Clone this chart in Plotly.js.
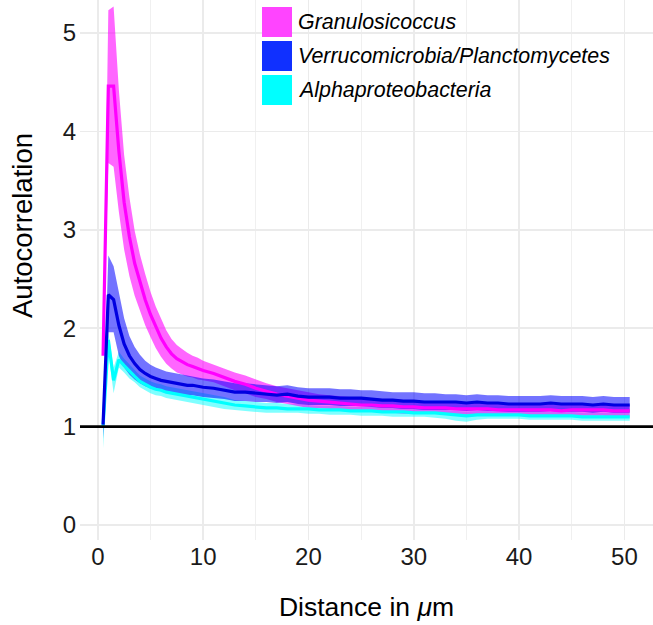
<!DOCTYPE html>
<html><head><meta charset="utf-8">
<script src="https://cdn.plot.ly/plotly-3.0.1.min.js"></script>
<style>html,body{margin:0;padding:0;background:#fff}</style>
</head><body><div id="chart" style="width:653px;height:625px"></div>
<script>
const distance = [0.5,1,1.5,2,2.5,3,3.5,4,4.5,5,5.5,6,6.5,7,7.5,8,8.5,9,9.5,10,
 11,12,13,14,15,16,17,18,19,20,21,22,23,24,25,26,27,28,29,30,
 31,32,33,34,35,36,37,38,39,40,41,42,43,44,45,46,47,48,49,50,50.5];

const seriesNames = ["Granulosicoccus","Verrucomicrobia/Planctomycetes","Alphaproteobacteria"];

// Granulosicoccus
const granMean = [1.72,4.46,4.46,3.80,3.28,2.93,2.66,2.46,2.29,2.14,2.01,1.90,1.81,1.74,1.69,1.66,1.63,1.61,1.59,1.57,
 1.54,1.50,1.46,1.43,1.39,1.36,1.33,1.31,1.29,1.27,1.26,1.25,1.24,1.23,1.22,1.22,1.21,1.21,1.20,1.20,
 1.19,1.19,1.19,1.18,1.18,1.18,1.18,1.17,1.17,1.17,1.17,1.17,1.17,1.16,1.17,1.17,1.17,1.17,1.16,1.16,1.16];
const granUpper = [1.74,5.23,5.27,4.42,3.76,3.33,2.99,2.75,2.55,2.37,2.22,2.09,1.98,1.89,1.83,1.79,1.75,1.72,1.70,1.67,
 1.63,1.59,1.55,1.52,1.48,1.44,1.41,1.39,1.37,1.35,1.33,1.32,1.31,1.30,1.29,1.29,1.28,1.28,1.27,1.27,
 1.25,1.25,1.25,1.24,1.24,1.24,1.24,1.23,1.23,1.23,1.23,1.23,1.23,1.22,1.23,1.23,1.23,1.23,1.22,1.22,1.22];
const granLower = [1.70,3.68,3.64,3.18,2.80,2.53,2.33,2.17,2.03,1.91,1.80,1.71,1.64,1.59,1.55,1.53,1.51,1.50,1.48,1.47,
 1.45,1.41,1.37,1.34,1.30,1.28,1.25,1.23,1.21,1.19,1.19,1.18,1.17,1.16,1.15,1.15,1.14,1.14,1.13,1.13,
 1.13,1.13,1.13,1.12,1.12,1.12,1.12,1.11,1.11,1.11,1.11,1.11,1.11,1.10,1.11,1.11,1.11,1.11,1.10,1.10,1.10];

// Verrucomicrobia/Planctomycetes
const verrMean = [1.02,2.34,2.29,2.03,1.84,1.72,1.64,1.58,1.54,1.51,1.49,1.47,1.46,1.45,1.44,1.43,1.42,1.42,1.41,1.40,
 1.39,1.37,1.35,1.35,1.34,1.33,1.32,1.33,1.31,1.30,1.30,1.30,1.29,1.29,1.29,1.28,1.27,1.27,1.26,1.26,
 1.25,1.25,1.25,1.25,1.24,1.25,1.24,1.24,1.23,1.23,1.23,1.23,1.24,1.23,1.23,1.23,1.22,1.23,1.22,1.22,1.22];
const verrUpper = [1.06,2.74,2.63,2.38,2.10,1.92,1.81,1.73,1.67,1.63,1.60,1.58,1.56,1.55,1.54,1.53,1.52,1.51,1.50,1.49,
 1.48,1.46,1.44,1.44,1.43,1.42,1.41,1.42,1.40,1.39,1.39,1.39,1.38,1.38,1.37,1.37,1.36,1.35,1.35,1.35,
 1.34,1.34,1.33,1.33,1.32,1.33,1.32,1.32,1.31,1.31,1.31,1.31,1.32,1.31,1.31,1.31,1.30,1.31,1.30,1.30,1.30];
const verrLower = [0.88,1.96,1.96,1.72,1.60,1.53,1.48,1.44,1.41,1.39,1.38,1.37,1.36,1.35,1.34,1.33,1.32,1.32,1.31,1.30,
 1.29,1.28,1.26,1.26,1.25,1.25,1.24,1.25,1.23,1.22,1.22,1.22,1.21,1.21,1.21,1.20,1.19,1.19,1.18,1.18,
 1.17,1.17,1.17,1.17,1.16,1.17,1.16,1.16,1.15,1.15,1.15,1.15,1.16,1.15,1.15,1.15,1.14,1.15,1.14,1.14,1.14];

// Alphaproteobacteria
const alphaMean = [1.00,1.88,1.47,1.68,1.62,1.56,1.51,1.46,1.43,1.40,1.38,1.37,1.35,1.34,1.33,1.32,1.31,1.30,1.29,1.28,
 1.26,1.24,1.22,1.21,1.20,1.19,1.19,1.18,1.18,1.18,1.17,1.17,1.17,1.16,1.16,1.16,1.15,1.15,1.15,1.14,
 1.14,1.14,1.13,1.12,1.11,1.12,1.12,1.12,1.12,1.12,1.11,1.11,1.11,1.11,1.11,1.10,1.10,1.10,1.10,1.10,1.10];
const alphaUpper = [1.05,1.96,1.60,1.76,1.69,1.63,1.57,1.52,1.49,1.46,1.44,1.43,1.41,1.40,1.39,1.38,1.37,1.36,1.35,1.34,
 1.32,1.30,1.27,1.26,1.25,1.24,1.24,1.23,1.23,1.22,1.21,1.21,1.21,1.20,1.20,1.20,1.19,1.19,1.19,1.18,
 1.18,1.18,1.17,1.16,1.15,1.16,1.16,1.16,1.16,1.16,1.15,1.15,1.15,1.15,1.15,1.14,1.14,1.14,1.14,1.14,1.14];
const alphaLower = [0.78,1.76,1.34,1.60,1.55,1.49,1.45,1.40,1.37,1.34,1.32,1.31,1.29,1.28,1.27,1.26,1.25,1.24,1.23,1.22,
 1.20,1.18,1.17,1.16,1.15,1.14,1.14,1.14,1.14,1.13,1.13,1.12,1.12,1.12,1.11,1.11,1.11,1.10,1.10,1.10,
 1.10,1.09,1.08,1.06,1.05,1.07,1.08,1.08,1.08,1.08,1.07,1.07,1.07,1.07,1.07,1.06,1.06,1.06,1.06,1.06,1.06];

const xTicks = [0,10,20,30,40,50];
const yTicks = [0,1,2,3,4,5];
const xTitle = "Distance in <i>μ</i>m";
const yTitle = "Autocorrelation";

// styles
const lineColors = {gran:"#FF00FF", verr:"#0000E0", alpha:"#00FFFF"};
const fillColors = {gran:"rgba(255,0,255,0.6)", verr:"rgba(0,0,255,0.55)", alpha:"rgba(0,255,255,0.5)"};
const keyColors = ["#FF44FF","#1030FF","#00FFFF"];

function band(lower, upper, fill){
  return [
    {x:distance, y:lower, type:"scatter", mode:"lines", line:{width:0,color:"rgba(0,0,0,0)"}, showlegend:false, hoverinfo:"skip"},
    {x:distance, y:upper, type:"scatter", mode:"lines", line:{width:0,color:"rgba(0,0,0,0)"}, fill:"tonexty", fillcolor:fill, showlegend:false, hoverinfo:"skip"}
  ];
}
function meanLine(y, color, name){
  return {x:distance, y:y, type:"scatter", mode:"lines", name:name, line:{width:3.2,color:color}, showlegend:false};
}

const data = [].concat(
  band(alphaLower, alphaUpper, fillColors.alpha),
  band(granLower, granUpper, fillColors.gran),
  band(verrLower, verrUpper, fillColors.verr),
  [meanLine(alphaMean, lineColors.alpha, seriesNames[2]),
   meanLine(granMean, lineColors.gran, seriesNames[0]),
   meanLine(verrMean, lineColors.verr, seriesNames[1])]
);

// plot area geometry (pixels)
const W = 653, H = 625, mL = 80, mR = 0, mT = 0, mB = 85;
const pw = W - mL - mR, ph = H - mT - mB;
const px = v => (v - mL) / pw;
const py = v => 1 - (v - mT) / ph;

const shapes = [
  {type:"line", xref:"paper", x0:0, x1:1, yref:"y", y0:1, y1:1, line:{color:"#000", width:2.6}, layer:"above"}
];
const annotations = [
  {xref:"paper", yref:"paper", x:px(22), y:py(226), xanchor:"center", yanchor:"middle", textangle:-90,
   text:yTitle, showarrow:false, font:{family:"Liberation Sans, Arial, sans-serif", size:27.5, color:"#000"}}
];
const keyTop = [7, 41, 75], keySize = 30, keyLeft = 262, textLeft = 296;
seriesNames.forEach((n, i) => {
  shapes.push({type:"rect", xref:"paper", yref:"paper", x0:px(keyLeft), x1:px(keyLeft+keySize),
    y0:py(keyTop[i]+keySize), y1:py(keyTop[i]), fillcolor:keyColors[i], line:{width:0}, layer:"above"});
  annotations.push({xref:"paper", yref:"paper", x:px(textLeft), y:py(keyTop[i]+keySize/2), xanchor:"left", yanchor:"middle",
    text:"<i>"+n+"</i>", showarrow:false, font:{family:"Liberation Sans, Arial, sans-serif", size:21.4, color:"#000"}});
});

const layout = {
  width:W, height:H,
  margin:{l:mL, r:mR, t:mT, b:mB},
  paper_bgcolor:"#fff", plot_bgcolor:"#fff",
  font:{family:"Liberation Sans, Arial, sans-serif", color:"#1a1a1a"},
  showlegend:false,
  xaxis:{range:[-1.69,52.71], tickvals:xTicks, ticktext:xTicks.map(String), showgrid:true, gridcolor:"#EBEBEB", gridwidth:1.5,
    zeroline:false, showline:false, ticks:"", tickfont:{size:24, color:"#1a1a1a"},
    minor:{dtick:5, tick0:0, showgrid:true, gridcolor:"#EEEEEE", gridwidth:0.9},
    title:{text:xTitle, font:{size:26.5, color:"#000"}, standoff:28}},
  yaxis:{range:[-0.152,5.335], tickvals:yTicks, ticktext:yTicks.map(String), showgrid:true, gridcolor:"#EBEBEB", gridwidth:1.5,
    zeroline:false, showline:false, ticks:"", tickfont:{size:24, color:"#1a1a1a"}, ticklabelstandoff:3},
  shapes:shapes,
  annotations:annotations
};

Plotly.newPlot("chart", data, layout, {displayModeBar:false, staticPlot:true});
</script>
</body></html>
